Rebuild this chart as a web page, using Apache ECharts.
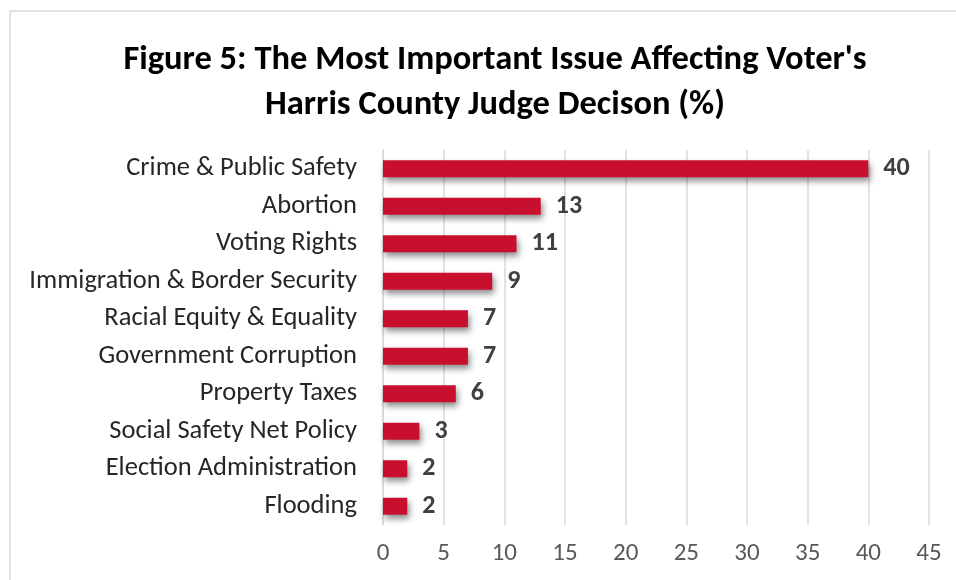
<!DOCTYPE html>
<html><head><meta charset="utf-8">
<script src="https://cdn.jsdelivr.net/npm/echarts@6/dist/echarts.min.js"></script>
<style>html,body{margin:0;padding:0;background:#fff}#c{width:956px;height:580px}</style>
</head><body><div id="c"></div>
<script>
const categories = ["Crime & Public Safety","Abortion","Voting Rights","Immigration & Border Security","Racial Equity & Equality","Government Corruption","Property Taxes","Social Safety Net Policy","Election Administration","Flooding"];
const values = [40,13,11,9,7,7,6,3,2,2];
const xTicks = [0,5,10,15,20,25,30,35,40,45];
const chart = echarts.init(document.getElementById('c'));
const font = "Carlito, 'Open Sans', sans-serif";
chart.setOption({
  animation:false,
  graphic:[{type:'rect',shape:{x:10,y:11,width:980,height:620},style:{fill:'none',stroke:'#d9d9d9',lineWidth:1.5}}],
  title:{text:"Figure 5: The Most Important Issue Affecting Voter's\nHarris County Judge Decison (%)",left:490,textAlign:'center',top:33,
    textStyle:{fontFamily:font,fontWeight:'bold',fontSize:34.5,lineHeight:45,color:'#000'}},
  grid:{left:383,right:27,top:150,bottom:55},
  xAxis:{type:'value',min:0,max:45,interval:5,
    axisLine:{show:false},axisTick:{show:false},
    splitLine:{lineStyle:{color:'#d9d9d9',width:1.5}},
    axisLabel:{color:'#595959',fontSize:25,fontFamily:font,margin:16,formatter:v=>xTicks.includes(v)?String(v):''}},
  yAxis:{type:'category',inverse:true,data:categories,
    axisLine:{show:true,lineStyle:{color:'#d9d9d9',width:1.5}},axisTick:{show:false},
    axisLabel:{color:'#262626',fontSize:26.5,fontFamily:font,margin:26}},
  series:[{type:'bar',data:values,barWidth:17,
    itemStyle:{color:'#C8102E',shadowColor:'rgba(0,0,0,0.45)',shadowBlur:6,shadowOffsetX:2,shadowOffsetY:4},
    label:{show:true,position:'right',distance:15,color:'#404040',fontWeight:'bold',fontSize:26,fontFamily:font}}]
});
</script></body></html>
